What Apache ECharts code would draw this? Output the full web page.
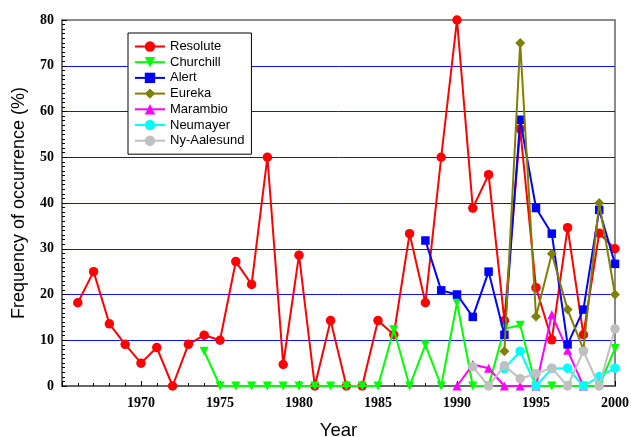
<!DOCTYPE html>
<html><head><meta charset="utf-8">
<script src="https://cdn.jsdelivr.net/npm/echarts@6/dist/echarts.min.js"></script>
<style>html,body{margin:0;padding:0;background:#fff}#c{width:631px;height:437px}</style>
</head><body><div id="c"></div>
<script>
// ---- data ----
const xTickLabels = ['1970','1975','1980','1985','1990','1995','2000'];
const yTickLabels = ['0','10','20','30','40','50','60','70','80'];

const resoluteStart = 1966;
const resolute = [18.2,25.0,13.6,9.1,5.0,8.4,0,9.1,11.1,10.0,27.2,22.2,50.0,4.7,28.6,0,14.3,0,0,14.3,11.2,33.3,18.2,50.0,80.0,38.9,46.2,14.3,56.2,21.5,10.1,34.6,11.2,33.4,30.0];
const churchillStart = 1974;
const churchill = [7.6,0,0,0,0,0,0,0,0,0,0,0,12.3,0,9.0,0,18.2,0,0,12.5,13.3,0,0,0,0,0,8.2];
const alertStart = 1988;
const alert = [31.8,20.9,20.0,15.1,25.0,11.2,58.2,38.9,33.3,9.1,16.7,38.5,26.7];
const eurekaStart = 1993;
const eureka = [7.6,75.0,15.2,28.9,16.7,8.0,40.0,20.0];
const marambioStart = 1990;
const marambio = [0,4.7,3.9,0,0,0,15.6,7.8,0];
const neumayerStart = 1993;
const neumayer = [3.8,7.6,0,3.8,3.9,0,2.0,3.9];
const nyStart = 1991;
const nyAalesund = [4.2,0,4.4,1.6,2.7,3.9,0,7.6,0,12.5];

function pairs(start, vals){ return vals.map((v,i)=>[start+i, v]); }

function mk(name, color, data, symbol, size, extra){
  return Object.assign({
    name, type:'line', data, symbol, symbolSize:size,
    lineStyle:{color, width:2}, itemStyle:{color},
    emphasis:{disabled:true}, animation:false
  }, extra||{});
}

const chart = echarts.init(document.getElementById('c'), null, {renderer:'canvas'});
chart.setOption({
  animation:false,
  backgroundColor:'#fff',
  grid:{left:62, right:16, top:20, bottom:51, outerBoundsMode:'none', containLabel:false,
        show:true, borderColor:'#666', borderWidth:1.5, backgroundColor:'transparent'},
  legend:{
    orient:'vertical', left:128, top:33,
    padding:[7,7,7,6], itemGap:2.7, itemWidth:30, itemHeight:13,
    backgroundColor:'#fff', borderColor:'#000', borderWidth:1, borderRadius:0,
    textStyle:{fontFamily:'Liberation Sans, Arial, sans-serif', fontSize:13, lineHeight:13, color:'#000'},
    data:['Resolute','Churchill','Alert','Eureka','Marambio','Neumayer','Ny-Aalesund']
  },
  xAxis:{
    type:'value', min:1965, max:2000, interval:5,
    name:'Year', nameLocation:'middle', nameGap:35,
    nameTextStyle:{fontFamily:'Liberation Sans, Arial, sans-serif', fontSize:18.5, color:'#000'},
    axisLine:{show:true, lineStyle:{color:'#666', width:2}},
    axisTick:{show:true, inside:true, length:5, lineStyle:{color:'#000'}},
    minorTick:{show:true, splitNumber:5, length:3, lineStyle:{color:'#000'}},
    splitLine:{show:false},
    axisLabel:{margin:10, color:'#000', fontFamily:'Liberation Serif, Times New Roman, serif', fontWeight:'bold', fontSize:14,
      formatter:v=>{const s=String(v); return xTickLabels.indexOf(s)>=0?s:'';}}
  },
  yAxis:{
    type:'value', min:0, max:80, interval:10,
    name:'Frequency of occurrence (%)', nameLocation:'middle', nameGap:34,
    nameTextStyle:{fontFamily:'Liberation Sans, Arial, sans-serif', fontSize:18, color:'#000'},
    axisLine:{show:true, lineStyle:{color:'#666', width:1.5}},
    axisTick:{show:true, inside:true, length:5, lineStyle:{color:'#000'}},
    minorTick:{show:true, splitNumber:10, length:3, lineStyle:{color:'#000'}},
    splitLine:{show:true, showMinLine:false, showMaxLine:false, lineStyle:{color:'#1010ff', width:1}},
    axisLabel:{margin:8, color:'#000', fontFamily:'Liberation Serif, Times New Roman, serif', fontWeight:'bold', fontSize:14,
      formatter:v=>{const s=String(v); return yTickLabels.indexOf(s)>=0?s:'';}}
  },
  series:[
    mk('Resolute','#ff0000',pairs(resoluteStart,resolute),'circle',9.5,{z:2}),
    mk('Churchill','#00ff00',pairs(churchillStart,churchill),'triangle',9,{symbolRotate:180,z:3}),
    mk('Alert','#0000ff',pairs(alertStart,alert),'rect',8.5,{z:5}),
    mk('Eureka','#808000',pairs(eurekaStart,eureka),'diamond',10,{z:6}),
    mk('Marambio','#ff00ff',pairs(marambioStart,marambio),'triangle',9,{z:4}),
    mk('Neumayer','#00ffff',pairs(neumayerStart,neumayer),'circle',9.5,{z:7}),
    mk('Ny-Aalesund','#c0c0c0',pairs(nyStart,nyAalesund),'circle',9.5,{z:8})
  ]
});
</script>
</body></html>
